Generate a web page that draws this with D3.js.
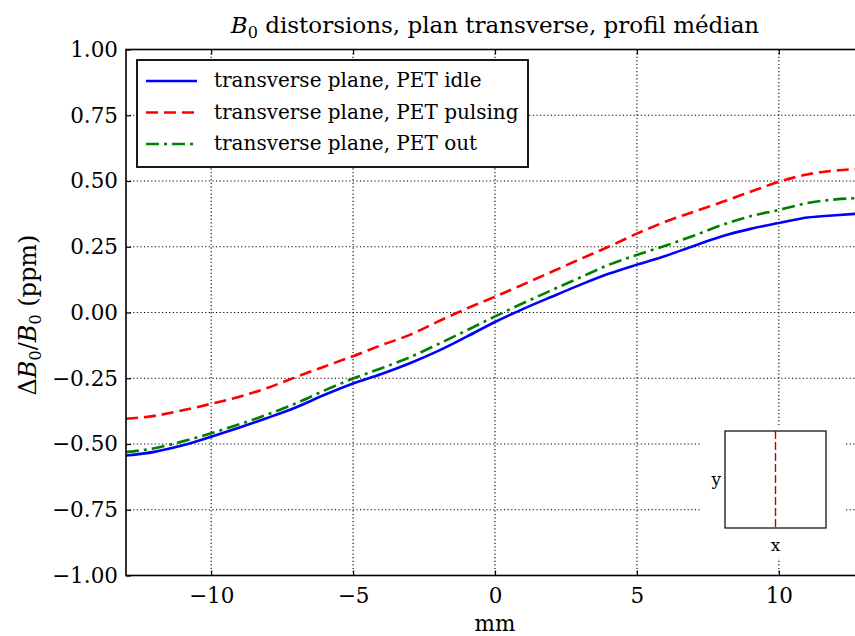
<!DOCTYPE html>
<html>
<head>
<meta charset="utf-8">
<script src="https://cdn.jsdelivr.net/npm/d3@7"></script>
<style>
  html, body { margin: 0; padding: 0; background: #fff; }
  svg { display: block; }
  text { font-family: "DejaVu Serif", "Liberation Serif", serif; fill: #000; }
</style>
</head>
<body>
<svg id="chart" width="855" height="636"></svg>
<script>
// ---- data ----
const xPositions = [-13,-12,-11,-10,-9,-8,-7,-6,-5,-4,-3,-2,-1,0,1,2,3,4,5,6,7,8,9,10,11,12,13];
const petIdle = [-0.544,-0.530,-0.505,-0.472,-0.437,-0.400,-0.360,-0.313,-0.270,-0.234,-0.193,-0.146,-0.092,-0.036,0.014,0.060,0.105,0.147,0.182,0.215,0.253,0.290,0.318,0.340,0.361,0.370,0.377];
const petPulsing = [-0.404,-0.393,-0.372,-0.347,-0.320,-0.286,-0.245,-0.205,-0.166,-0.124,-0.085,-0.034,0.015,0.060,0.107,0.155,0.203,0.250,0.300,0.345,0.383,0.420,0.459,0.497,0.525,0.540,0.547];
const petOut = [-0.531,-0.516,-0.490,-0.459,-0.425,-0.387,-0.345,-0.296,-0.251,-0.212,-0.170,-0.120,-0.068,-0.015,0.036,0.085,0.133,0.181,0.219,0.254,0.292,0.333,0.366,0.390,0.416,0.430,0.436];
const seriesNames = ["transverse plane, PET idle","transverse plane, PET pulsing","transverse plane, PET out"];
const xTicks = [-10,-5,0,5,10];
const yTicks = [-1.00,-0.75,-0.50,-0.25,0.00,0.25,0.50,0.75,1.00];
const titleText = " distorsions, plan transverse, profil médian";
const xLabel = "mm";
const insetLabels = ["x","y"];

// ---- layout ----
const svg = d3.select("#chart");
const L = 126, R = 864, T = 49.5, B = 575.5;
const x = d3.scaleLinear().domain([-13, 13]).range([L, R]);
const y = d3.scaleLinear().domain([-1, 1]).range([B, T]);
const FONT = "DejaVu Serif, Liberation Serif, serif";

const styles = [
  {color: "#0000ff", dash: null},
  {color: "#ff0000", dash: "12,6"},
  {color: "#008000", dash: "13,5,3,5"}
];
const seriesData = [petIdle, petPulsing, petOut];

svg.append("defs").append("clipPath").attr("id","clip")
  .append("rect").attr("x",L).attr("y",T).attr("width",R-L).attr("height",B-T);

// grid
const grid = svg.append("g");
grid.selectAll("line.gx").data(xTicks).join("line")
  .attr("x1", d=>x(d)).attr("x2", d=>x(d)).attr("y1", T).attr("y2", B)
  .attr("stroke","#000").attr("stroke-width",1.1).attr("stroke-dasharray","1.2,2.4");
grid.selectAll("line.gy").data(yTicks.slice(1,-1)).join("line")
  .attr("x1", L).attr("x2", R).attr("y1", d=>y(d)).attr("y2", d=>y(d))
  .attr("stroke","#000").attr("stroke-width",1.1).attr("stroke-dasharray","1.2,2.4");

// inset background (covers grid)
svg.append("rect").attr("x",700).attr("y",425).attr("width",146).attr("height",133).attr("fill","#fff");

// lines
const line = d3.line().curve(d3.curveMonotoneX).x((d,i)=>x(xPositions[i])).y(d=>y(d));
const plot = svg.append("g").attr("clip-path","url(#clip)");
seriesData.forEach((s,k)=>{
  plot.append("path").datum(s).attr("d", line)
    .attr("fill","none").attr("stroke", styles[k].color).attr("stroke-width",2.6)
    .attr("stroke-dasharray", styles[k].dash);
});

// inset
const ix0 = 725, ix1 = 826, iy0 = 431, iy1 = 528;
svg.append("rect").attr("x",ix0).attr("y",iy0).attr("width",ix1-ix0).attr("height",iy1-iy0)
  .attr("fill","none").attr("stroke","#000").attr("stroke-width",1.2);
svg.append("line").attr("x1",(ix0+ix1)/2).attr("x2",(ix0+ix1)/2).attr("y1",iy0).attr("y2",iy1)
  .attr("stroke","#c00000").attr("stroke-width",1.4).attr("stroke-dasharray","8,3");
svg.append("text").attr("x",(ix0+ix1)/2).attr("y",551).attr("text-anchor","middle").attr("font-size",17).text(insetLabels[0]);
svg.append("text").attr("x",721).attr("y",485).attr("text-anchor","end").attr("font-size",17).text(insetLabels[1]);

// frame
svg.append("rect").attr("x",L).attr("y",T).attr("width",R-L).attr("height",B-T)
  .attr("fill","none").attr("stroke","#000").attr("stroke-width",1.6);

// axes
const fmtY = d3.format(".2f");
const fmtX = d3.format("d");
const axL = svg.append("g").attr("transform",`translate(${L},0)`)
  .call(d3.axisLeft(y).tickValues(yTicks).tickFormat(fmtY).tickSizeInner(-5).tickSizeOuter(0).tickPadding(8));
const axB = svg.append("g").attr("transform",`translate(0,${B})`)
  .call(d3.axisBottom(x).tickValues(xTicks).tickFormat(fmtX).tickSizeInner(-5).tickSizeOuter(0).tickPadding(12));
const axT = svg.append("g").attr("transform",`translate(0,${T})`)
  .call(d3.axisTop(x).tickValues(xTicks).tickFormat("").tickSizeInner(-5).tickSizeOuter(0));
[axL, axB, axT].forEach(a=>{
  a.select(".domain").remove();
  a.attr("font-family", FONT);
  a.selectAll(".tick line").attr("stroke","#000").attr("stroke-width",1.2);
  a.selectAll("text").attr("font-size",21.5).attr("fill","#000");
});

// title
const title = svg.append("text").attr("x",495).attr("y",33).attr("text-anchor","middle").attr("font-size",23);
title.append("tspan").attr("font-style","italic").text("B");
title.append("tspan").attr("font-size",16).attr("dy",5).text("0");
title.append("tspan").attr("dy",-5).text(titleText);

// x label
svg.append("text").attr("x",495).attr("y",631).attr("text-anchor","middle").attr("font-size",21.5).text(xLabel);

// y label
const yl = svg.append("text").attr("transform","translate(36,315) rotate(-90)").attr("text-anchor","middle")
  .attr("font-size",24);
yl.append("tspan").text("Δ");
yl.append("tspan").attr("font-style","italic").text("B");
yl.append("tspan").attr("font-size",16).attr("dy",5).text("0");
yl.append("tspan").attr("dy",-5).text("/");
yl.append("tspan").attr("font-style","italic").text("B");
yl.append("tspan").attr("font-size",16).attr("dy",5).text("0");
yl.append("tspan").attr("dy",-5).text(" (ppm)");

// legend
const lg = svg.append("g");
lg.append("rect").attr("x",137).attr("y",60).attr("width",391).attr("height",107)
  .attr("fill","#fff").attr("stroke","#000").attr("stroke-width",1.8);
const rowY = [81, 112.5, 144];
seriesNames.forEach((n,k)=>{
  lg.append("line").attr("x1",146).attr("x2",197).attr("y1",rowY[k]).attr("y2",rowY[k])
    .attr("stroke",styles[k].color).attr("stroke-width",2.6).attr("stroke-dasharray",styles[k].dash);
  lg.append("text").attr("x",214).attr("y",rowY[k]+6).attr("font-size",20).text(n);
});
</script>
</body>
</html>
